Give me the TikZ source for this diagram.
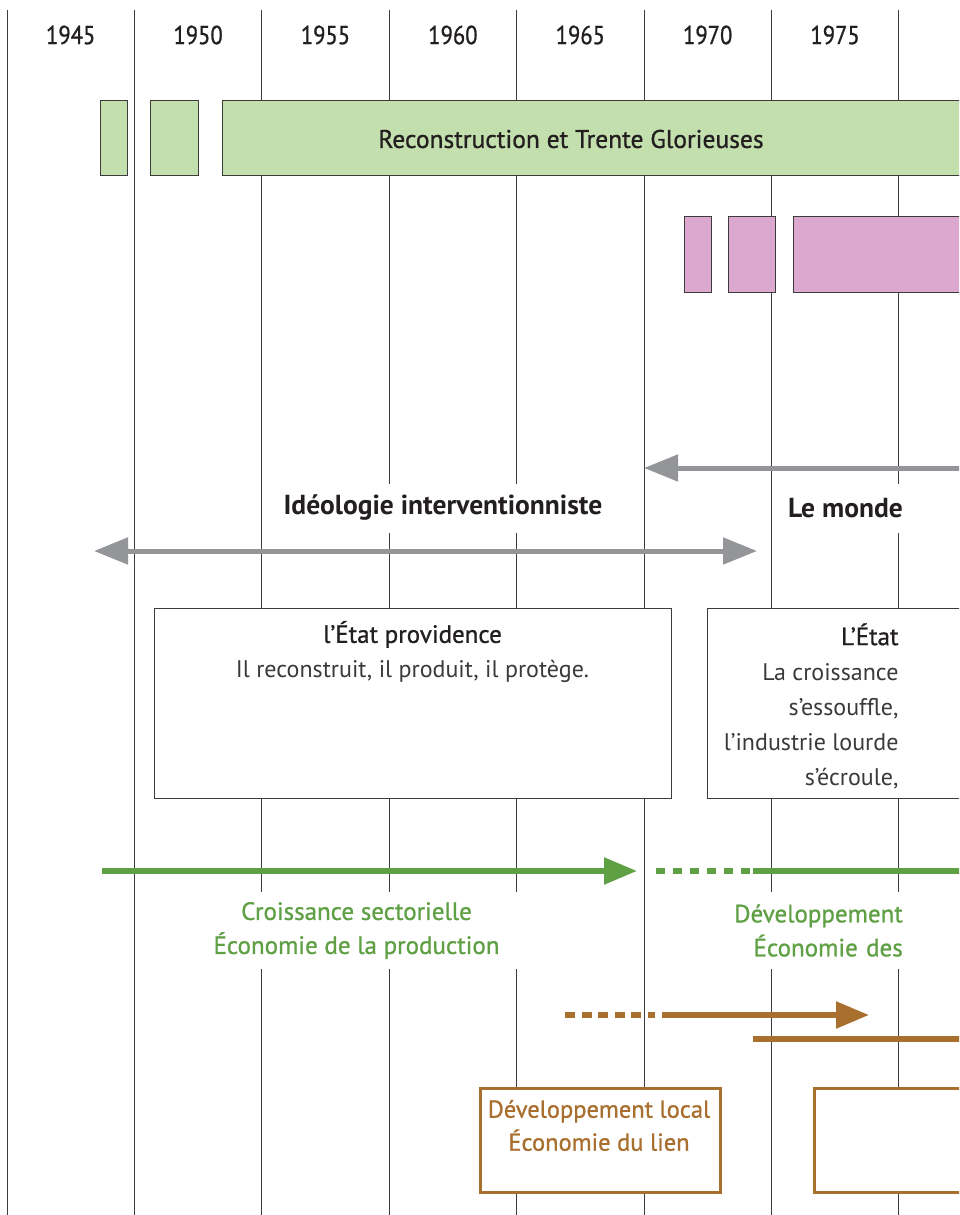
\documentclass[tikz,border=0pt]{standalone}
\usepackage{fontspec}
\setmainfont{PT Sans}
\newfontfamily\medfont[FakeBold=0.9]{PT Sans}
\newfontfamily\yearfont[FakeBold=0.9, FakeStretch=0.87]{PT Sans}
\newfontfamily\titlefont[FakeBold=0.9]{PT Sans}
\usetikzlibrary{arrows.meta}
\definecolor{linegray}{HTML}{3C3C3C}
\definecolor{boxgreen}{HTML}{C4DFAE}
\definecolor{boxpink}{HTML}{DDA8CF}
\definecolor{arrgray}{HTML}{939598}
\definecolor{tgreen}{HTML}{60A044}
\definecolor{tbrown}{HTML}{A96F2F}
\definecolor{tdark}{HTML}{231F20}
\definecolor{tlight}{HTML}{3A3A3A}
\tikzset{
  vline/.style={draw=linegray, line width=1pt},
  yearlbl/.style={font=\yearfont\fontsize{26}{28}\selectfont, text=tdark},
  period/.style={draw=linegray, line width=1pt, anchor=north west, inner sep=0pt},
  gbox/.style={period, fill=boxgreen},
  pbox/.style={period, fill=boxpink},
  headlbl/.style={font=\fontsize{27.5}{30}\selectfont\bfseries, text=tdark, fill=white, minimum height=49pt, inner xsep=3pt},
  grayarrow/.style={draw=arrgray, line width=5pt, -{Triangle[length=34pt,width=26pt]}},
  grayboth/.style={draw=arrgray, line width=5pt, {Triangle[length=34pt,width=26pt]}-{Triangle[length=34pt,width=26pt]}},
  statebox/.style={draw=linegray, line width=1.2pt, fill=white},
  bodytext/.style={font=\fontsize{24}{35}\selectfont, text=tlight},
  greenline/.style={draw=tgreen, line width=5.5pt},
  greenarrow/.style={greenline, -{Triangle[length=33pt,width=26pt]}},
  greendots/.style={greenline, dash pattern=on 8.5pt off 8.5pt},
  greentext/.style={font=\medfont\fontsize{25}{34}\selectfont, text=tgreen, fill=white, align=center, minimum height=77pt},
  brownline/.style={draw=tbrown, line width=5.5pt},
  brownarrow/.style={brownline, -{Triangle[length=33pt,width=26pt]}},
  browndash/.style={brownline, dash pattern=on 10pt off 6.5pt},
  brownbox/.style={draw=tbrown, line width=3pt, fill=white},
  browntext/.style={font=\medfont\fontsize{24.5}{33}\selectfont, text=tbrown, align=center},
}
\begin{document}
\begin{tikzpicture}[x=1pt,y=-1pt]
\useasboundingbox (0,0) rectangle (959,1215);
\clip (0,0) rectangle (959,1215);
\fill[white] (0,0) rectangle (959,1215);
% grid of years
\foreach \i in {0,...,7} {
  \coordinate (top\i) at (7+127.4*\i,10);
  \coordinate (bot\i) at (7+127.4*\i,1220);
  \draw[vline] (top\i) -- (bot\i);
}
\foreach \yr [count=\i from 0] in {1945,1950,1955,1960,1965,1970,1975}
  \node[yearlbl] (y\yr) at (70.7+127.4*\i,35) {\yr};
% green periods
\node[gbox, minimum width=27pt, minimum height=75pt] (g1) at (100,100) {};
\node[gbox, minimum width=48pt, minimum height=75pt] (g2) at (150,100) {};
\node[gbox, minimum width=760pt, minimum height=75pt] (g3) at (222,100) {};
\node[font=\medfont\fontsize{25.5}{28}\selectfont, text=tdark] (g3lbl) at (571,139) {Reconstruction et Trente Glorieuses};
% pink periods
\node[pbox, minimum width=27pt, minimum height=76pt] (p1) at (684,216) {};
\node[pbox, minimum width=47pt, minimum height=76pt] (p2) at (728,216) {};
\node[pbox, minimum width=190pt, minimum height=76pt] (p3) at (793,216) {};
% headings
\node[headlbl] (ideo) at (443,508) {Idéologie interventionniste};
\node[headlbl, anchor=east] (monde) at (906,508) {Le monde};
% gray arrows
\coordinate (a1s) at (980,468);
\coordinate (a1e) at (644,468);
\draw[grayarrow] (a1s) -- (a1e);
\coordinate (a2s) at (94,551);
\coordinate (a2e) at (757,551);
\draw[grayboth] (a2s) -- (a2e);
% state boxes
\node[statebox, anchor=north west, minimum width=517pt, minimum height=190pt, inner sep=0pt] (s1) at (154,608) {};
\node[bodytext, align=center] (s1txt) at (412.5,652) {{\titlefont\fontsize{25}{35}\selectfont\color{tdark}l’État providence}\\Il reconstruit, il produit, il protège.};
\node[statebox, anchor=north west, minimum width=280pt, minimum height=190pt, inner sep=0pt] (s2) at (707,608) {};
\node[bodytext, align=right, anchor=east] (s2txt) at (902,706) {{\titlefont\fontsize{25}{35}\selectfont\color{tdark}L’État}\\La croissance\\s’essouffle,\\l’industrie lourde\\s’écroule,};
% green growth line
\coordinate (gs) at (102,871);
\coordinate (ge) at (637,871);
\coordinate (gd1) at (656,871);
\coordinate (gd2) at (750,871);
\coordinate (gr1) at (753,871);
\coordinate (gr2) at (980,871);
\draw[greenarrow] (gs) -- (ge);
\draw[greendots] (gd1) -- (gd2);
\draw[greenline] (gr1) -- (gr2);
\node[greentext, minimum width=400pt] (gl) at (356.5,930.5) {Croissance sectorielle\\Économie de la production};
\node[greentext, align=right, text width=190pt, inner xsep=4pt, anchor=east] (gr) at (907,930.5) {Développement\\Économie des};
% brown lines
\coordinate (bd1) at (565,1015);
\coordinate (bd2) at (655,1015);
\coordinate (bs) at (662,1015);
\coordinate (be) at (869,1015);
\coordinate (bl1) at (753,1039);
\coordinate (bl2) at (980,1039);
\draw[browndash] (bd1) -- (bd2);
\draw[brownarrow] (bs) -- (be);
\draw[brownline] (bl1) -- (bl2);
% brown boxes
\node[brownbox, anchor=north west, minimum width=240pt, minimum height=104pt, inner sep=0pt] (b1) at (479,1087) {};
\node[browntext] (b1txt) at (599,1125.5) {Développement local\\Économie du lien};
\node[brownbox, anchor=north west, minimum width=180pt, minimum height=104pt, inner sep=0pt] (b2) at (813,1087) {};
\end{tikzpicture}
\end{document}
